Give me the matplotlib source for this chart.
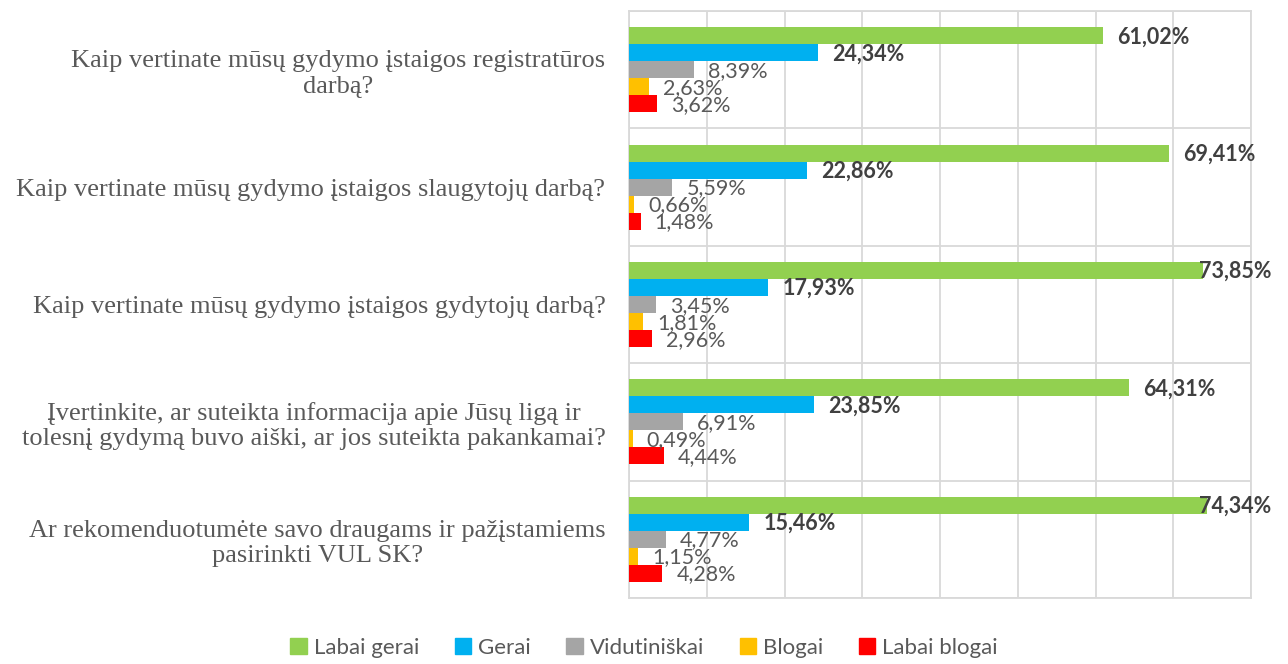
import numpy as np
import matplotlib
matplotlib.use("Agg")
import matplotlib.pyplot as plt
from matplotlib.patches import Patch

# questions (top to bottom)
questions = [
    "Kaip vertinate mūsų gydymo įstaigos registratūros\ndarbą?",
    "Kaip vertinate mūsų gydymo įstaigos slaugytojų darbą?",
    "Kaip vertinate mūsų gydymo įstaigos gydytojų darbą?",
    "Įvertinkite, ar suteikta informacija apie Jūsų ligą ir\ntolesnį gydymą buvo aiški, ar jos suteikta pakankamai?",
    "Ar rekomenduotumėte savo draugams ir pažįstamiems\npasirinkti VUL SK?",
]
series_names = ["Labai gerai", "Gerai", "Vidutiniškai", "Blogai", "Labai blogai"]
labai_gerai = [61.02, 69.41, 73.85, 64.31, 74.34]
gerai = [24.34, 22.86, 17.93, 23.85, 15.46]
vidutiniskai = [8.39, 5.59, 3.45, 6.91, 4.77]
blogai = [2.63, 0.66, 1.81, 0.49, 1.15]
labai_blogai = [3.62, 1.48, 2.96, 4.44, 4.28]

series = [labai_gerai, gerai, vidutiniskai, blogai, labai_blogai]
colors = ["#92D050", "#00B0F0", "#A5A5A5", "#FFC000", "#FF0000"]
bold = [True, True, False, False, False]

W, H = 1288, 664
fig = plt.figure(figsize=(W / 100, H / 100), dpi=100)
ax = fig.add_axes([629 / W, 1 - 598 / H, (1251 - 629) / W, (598 - 11) / H])

y = np.arange(len(questions))
h = 0.145
lab_font = "Lato"
xmax = 80
lim = 82.6  # labels may not run past this

for j, (vals, col) in enumerate(zip(series, colors)):
    pos = y + (j - 2) * h
    ax.barh(pos, vals, height=h, color=col, zorder=3)
    for p, v in zip(pos, vals):
        txt = f"{v:.2f}".replace(".", ",") + "%"
        kw = dict(va="center", fontsize=15.5, family=lab_font,
                  color="#404040" if bold[j] else "#595959",
                  fontweight="bold" if bold[j] else "normal",
                  clip_on=False, zorder=4)
        if v + 1.8 + 9.4 > lim:
            ax.text(lim, p + 0.01, txt, ha="right", **kw)
        else:
            ax.text(v + 1.8, p + 0.01, txt, ha="left", **kw)

ax.set_xlim(0, xmax)
ax.set_ylim(len(questions) - 0.5, -0.5)
ax.set_xticks(np.arange(0, xmax + 1, 10))
ax.set_xticklabels([])
ax.set_yticks(y)
ax.set_yticklabels(questions, family="Liberation Serif", fontsize=19,
                   color="#595959", multialignment="center")
ax.set_yticks(np.arange(-0.5, len(questions), 1), minor=True)
ax.tick_params(axis="both", which="both", length=0)
ax.tick_params(axis="y", pad=17)
ax.grid(axis="x", color="#D9D9D9", lw=1.3, zorder=0)
ax.grid(axis="y", which="minor", color="#D9D9D9", lw=1.3, zorder=0)
for s in ax.spines.values():
    s.set_color("#D9D9D9")
    s.set_linewidth(1.3)

handles = [Patch(color=c) for c in colors]
leg = fig.legend(handles, series_names, loc="center", bbox_to_anchor=(0.5, 1 - 648 / H),
                 ncol=5, frameon=False, handlelength=0.75, handleheight=0.75,
                 handletextpad=0.3, columnspacing=1.6,
                 prop={"family": lab_font, "size": 16})
for t in leg.get_texts():
    t.set_color("#595959")

fig.savefig("out.png", dpi=100)
